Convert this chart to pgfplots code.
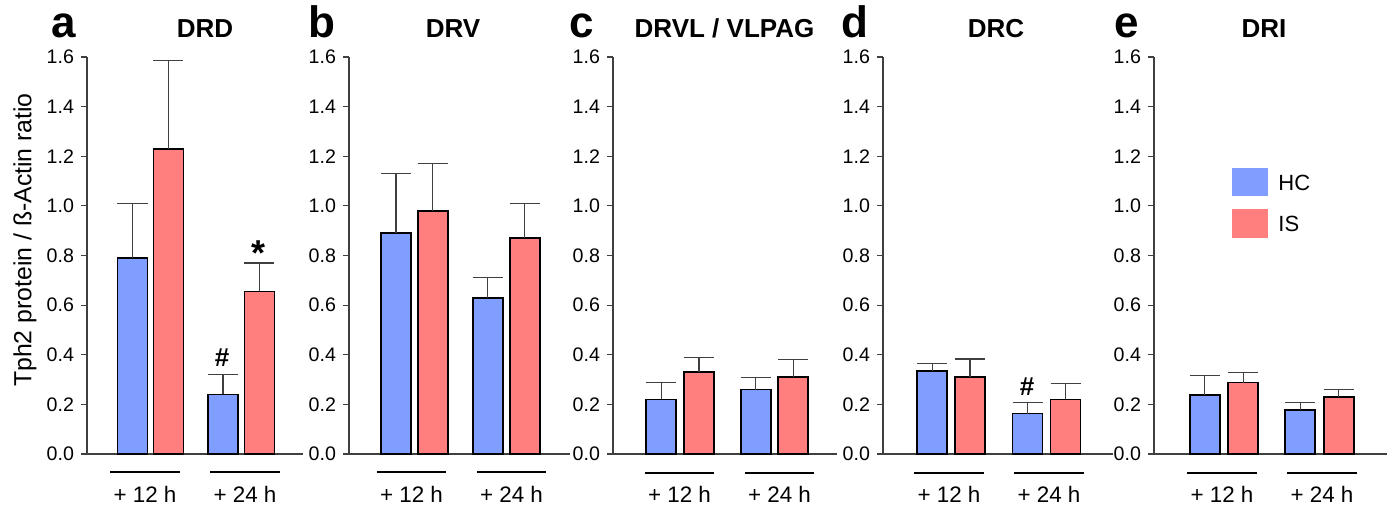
\documentclass[border=0pt]{standalone}
\usepackage{fontspec}
\setmainfont{Liberation Sans}
\usepackage{pgfplots}
\pgfplotsset{compat=1.18}
\definecolor{hcblue}{HTML}{7F9EFF}
\definecolor{isred}{HTML}{FF7F7F}
\definecolor{axgray}{HTML}{404040}

\newcommand{\tickfont}{\fontsize{9.8}{11}\selectfont}
\newcommand{\xlfont}{\fontsize{11.2}{13}\selectfont}
\newcommand{\ttlfont}{\fontsize{13}{15}\selectfont\bfseries}
\newcommand{\letfont}{\fontsize{22}{24}\selectfont\bfseries}

\pgfplotsset{
  panel/.style={
    scale only axis, height=198.5pt, width=#1*0.5pt,
    xmin=0, xmax=#1, ymin=0, ymax=1.6,
    axis lines=left, axis line style={-, draw=axgray, line width=0.6pt},
    xtick=\empty, ytick={0,0.2,0.4,0.6,0.8,1.0,1.2,1.4,1.6},
    tick align=outside, major tick length=3pt,
    tick style={draw=axgray, line width=0.6pt},
    y tick label style={/pgf/number format/.cd, fixed, fixed zerofill, precision=1, /tikz/.cd},
    /pgf/number format/assume math mode=true,
    ticklabel style={font=\tickfont},
    clip=false, anchor=south west,
  },
  hc/.style={
    error bars/y dir=plus, error bars/y explicit,
    error bars/error bar style={draw=axgray, line width=0.55pt},
    error bars/error mark options={rotate=90, draw=axgray, line width=0.55pt, mark size=7.5pt},
    ybar, bar width=30, bar shift=0pt, fill=hcblue, draw=black, line width=0.9pt},
  is/.style={hc, fill=isred},
}

\begin{document}
\begin{tikzpicture}
\path[use as bounding box] (0,0) rectangle (697.5pt,-255pt);

% a DRD
\begin{axis}[panel=216, at={(43.5pt,-227pt)}]
  \addplot[hc] coordinates {(45.5,0.79) +- (0,0.22) (136,0.24) +- (0,0.08)};
  \addplot[is] coordinates {(81.5,1.23) +- (0,0.355) (172.5,0.655) +- (0,0.115)};
\end{axis}

% b DRV
\begin{axis}[panel=221, at={(174.5pt,-227pt)}]
  \addplot[hc] coordinates {(47,0.89) +- (0,0.24) (138.7,0.63) +- (0,0.08)};
  \addplot[is] coordinates {(83.7,0.98) +- (0,0.19) (175.7,0.87) +- (0,0.14)};
\end{axis}

% c DRVL / VLPAG
\begin{axis}[panel=224, at={(306.5pt,-227pt)}]
  \addplot[hc] coordinates {(48.3,0.22) +- (0,0.07) (142.7,0.26) +- (0,0.05)};
  \addplot[is] coordinates {(86,0.33) +- (0,0.06) (180.3,0.31) +- (0,0.07)};
\end{axis}

% d DRC
\begin{axis}[panel=230, at={(441.5pt,-227pt)}]
  \addplot[hc] coordinates {(49.3,0.335) +- (0,0.03) (144.5,0.163) +- (0,0.045)};
  \addplot[is] coordinates {(87,0.31) +- (0,0.073) (182.5,0.22) +- (0,0.065)};
\end{axis}

% e DRI
\begin{axis}[panel=233, at={(577pt,-227pt)}]
  \addplot[hc] coordinates {(50.7,0.237) +- (0,0.08) (146.3,0.178) +- (0,0.03)};
  \addplot[is] coordinates {(89.3,0.288) +- (0,0.04) (184.7,0.23) +- (0,0.03)};
\end{axis}

% annotations, in pixel units of the reference
\begin{scope}[x=0.5pt, y=-0.5pt]
  \node[rotate=90, font=\fontsize{12.4}{14}\selectfont] at (25,240) {Tph2 protein / ß-Actin ratio};

  \foreach \l/\lx/\t/\tx in {a/64/DRD/205, b/322/DRV/453, c/582/{DRVL / VLPAG}/724.5, d/855/DRC/996, e/1127/DRI/1264}{
    \node[anchor=base, font=\letfont, inner sep=0pt] at (\lx,37) {\l};
    \node[anchor=base, font=\ttlfont, inner sep=0pt] at (\tx,37) {\t};
  }

  \foreach \a/\b/\c/\d/\yy in {110/180/210/280/472, 377/446/477/546/472, 645/714/745/814/473, 914/984/1014/1084/473, 1187/1257/1287/1357/473}{
    \draw[line width=1.3pt] (\a,\yy) -- (\b,\yy);
    \draw[line width=1.3pt] (\c,\yy) -- (\d,\yy);
    \node[anchor=base, font=\xlfont, inner sep=0pt] at ({(\a+\b)/2},502) {+ 12 h};
    \node[anchor=base, font=\xlfont, inner sep=0pt] at ({(\c+\d)/2},502) {+ 24 h};
  }

  \node[anchor=base, font=\fontsize{13}{15}\selectfont\bfseries, inner sep=0pt] at (222,366) {\#};
  \node[anchor=base, font=\fontsize{13}{15}\selectfont\bfseries, inner sep=0pt] at (1027,395) {\#};
  \node[anchor=base, font=\fontsize{18}{20}\selectfont\bfseries, inner sep=0pt] at (259,265) {*};

  \fill[hcblue] (1232,168) rectangle (1268,196);
  \fill[isred] (1232,209) rectangle (1268,238);
  \node[anchor=base west, font=\fontsize{11}{13}\selectfont, inner sep=0pt] at (1278,190) {HC};
  \node[anchor=base west, font=\fontsize{11}{13}\selectfont, inner sep=0pt] at (1278,231) {IS};
\end{scope}
\end{tikzpicture}
\end{document}
